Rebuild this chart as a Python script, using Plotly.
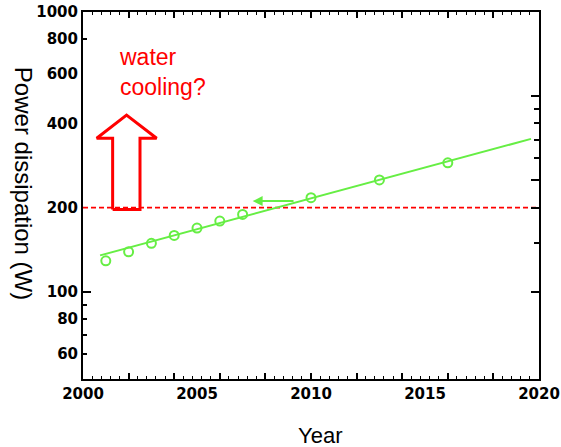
import math
import plotly.graph_objects as go

# Measured power dissipation per year
years = [2001, 2002, 2003, 2004, 2005, 2006, 2007, 2010, 2013, 2016]
power = [129, 139, 149, 159, 169, 179, 189, 217, 251, 289]

# Exponential trend line (straight on the log axis)
fit_years = [2000.75, 2019.65]
fit_power = [135, 352]

# Air-cooling limit
limit_years = [2000, 2020]
limit_power = [200, 200]

# Outline of the upward block arrow (year, W)
arrow_years = [2001.30, 2001.30, 2000.60, 2001.91, 2003.23, 2002.50, 2002.50, 2001.30]
arrow_power = [197, 354, 354, 428, 354, 354, 197, 197]

# Axis ticks
x_label_vals = [2000, 2005, 2010, 2015, 2020]
x_major_ticks = [2000 + 2 * i for i in range(11)]
x_minor_ticks = [round(2000 + 0.4 * i, 1) for i in range(51)]
y_label_vals = [60, 80, 100, 200, 400, 600, 800, 1000]
y_left_major = [100]
y_left_minor = [60, 70, 80, 90, 800]
y_right_major = [100, 200, 250, 500]
y_right_minor = [150, 300, 350, 400, 450]

GREEN = "#66EE44"
RED = "#FF0000"
Y_RANGE = [math.log10(48.8), 3]

fig = go.Figure()

fig.add_trace(go.Scatter(
    x=limit_years, y=limit_power, mode="lines",
    line=dict(color=RED, width=1.6, dash="5px,3px"), hoverinfo="skip", showlegend=False,
))
fig.add_trace(go.Scatter(
    x=fit_years, y=fit_power, mode="lines",
    line=dict(color=GREEN, width=2), hoverinfo="skip", showlegend=False,
))
fig.add_trace(go.Scatter(
    x=years, y=power, mode="markers",
    marker=dict(symbol="circle-open", size=9, color=GREEN, line=dict(width=2, color=GREEN)),
    showlegend=False,
))
fig.add_trace(go.Scatter(
    x=arrow_years, y=arrow_power, mode="lines",
    line=dict(color=RED, width=3), hoverinfo="skip", showlegend=False,
))

# Empty traces so the tick-only overlay axes get drawn
for xa, ya in [("x2", "y"), ("x3", "y"), ("x", "y2"), ("x", "y3")]:
    fig.add_trace(go.Scatter(x=[], y=[], xaxis=xa, yaxis=ya, showlegend=False, hoverinfo="skip"))

tick_font = dict(family="DejaVu Sans", size=15, color="black", weight="bold")

common = dict(automargin=False, showgrid=False, zeroline=False)

fig.update_layout(
    width=561, height=447,
    margin=dict(l=83, r=22, t=12, b=68),
    paper_bgcolor="white", plot_bgcolor="white",
    xaxis=dict(
        range=[2000, 2020], tickmode="array", tickvals=x_label_vals,
        ticks="", showline=True, linecolor="black", linewidth=2, mirror=True,
        tickfont=tick_font, **common,
    ),
    xaxis2=dict(
        range=[2000, 2020], overlaying="x", anchor="y", side="bottom",
        tickmode="array", tickvals=x_major_ticks, ticks="inside", ticklen=6,
        tickwidth=1.5, tickcolor="black", showticklabels=False, showline=False,
        minor=dict(tickmode="array", tickvals=x_minor_ticks, ticks="inside",
                   ticklen=3, tickwidth=1, tickcolor="black"),
        **common,
    ),
    xaxis3=dict(
        range=[2000, 2020], overlaying="x", anchor="y", side="top",
        tickmode="array", tickvals=x_major_ticks, ticks="inside", ticklen=6,
        tickwidth=1.5, tickcolor="black", showticklabels=False, showline=False,
        minor=dict(tickmode="array", tickvals=x_minor_ticks, ticks="inside",
                   ticklen=3, tickwidth=1, tickcolor="black"),
        **common,
    ),
    yaxis=dict(
        type="log", range=Y_RANGE, tickmode="array", tickvals=y_label_vals,
        ticktext=[str(v) for v in y_label_vals],
        ticks="", showline=True, linecolor="black", linewidth=2, mirror=True,
        tickfont=tick_font, **common,
    ),
    yaxis2=dict(
        type="log", range=Y_RANGE, overlaying="y", anchor="x", side="left",
        tickmode="array", tickvals=y_left_major, ticks="inside", ticklen=8,
        tickwidth=1.5, tickcolor="black", showticklabels=False, showline=False,
        minor=dict(tickmode="array", tickvals=y_left_minor, ticks="inside",
                   ticklen=4, tickwidth=1.5, tickcolor="black"),
        **common,
    ),
    yaxis3=dict(
        type="log", range=Y_RANGE, overlaying="y", anchor="x", side="right",
        tickmode="array", tickvals=y_right_major, ticks="inside", ticklen=8,
        tickwidth=1.5, tickcolor="black", showticklabels=False, showline=False,
        minor=dict(tickmode="array", tickvals=y_right_minor, ticks="inside",
                   ticklen=5, tickwidth=1.5, tickcolor="black"),
        **common,
    ),
)

# Trend arrow pointing back to the crossing of the 200 W limit
fig.add_annotation(
    x=2007.44, y=math.log10(211), ax=2009.3, ay=math.log10(211),
    xref="x", yref="y", axref="x", ayref="y",
    text="", showarrow=True, arrowhead=2, arrowsize=1, arrowwidth=2,
    arrowcolor=GREEN,
)

fig.add_annotation(
    x=2001.5, xref="x", xanchor="left", y=0.918, yref="paper", yanchor="top",
    text="water<br>cooling?", showarrow=False, align="left",
    font=dict(family="Liberation Sans", size=23, color=RED),
)

fig.add_annotation(
    x=-0.129, xref="paper", xanchor="center", y=0.534, yref="paper", yanchor="middle",
    textangle=90, text="Power dissipation (W)", showarrow=False,
    font=dict(family="Liberation Sans", size=24, color="black"),
)

fig.add_annotation(
    x=0.52, xref="paper", y=-0.153, yref="paper", yanchor="middle",
    text="Year", showarrow=False,
    font=dict(family="Liberation Sans", size=22, color="black"),
)

fig.write_html("out.html")
